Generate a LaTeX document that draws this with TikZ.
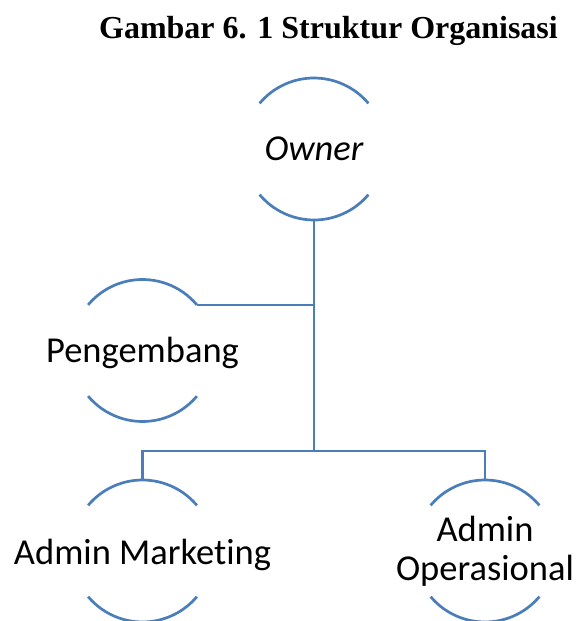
\documentclass[tikz,border=0pt]{standalone}
\usepackage{fontspec}
\setmainfont{Carlito}[Ligatures=NoCommon]
\newfontfamily\titlefont{Liberation Serif}
\definecolor{orgblue}{RGB}{74,126,187}
\begin{document}
\begin{tikzpicture}[x=1pt,y=1pt,
  orgline/.style={draw=orgblue,line width=2.7pt},
  role/.style={circle,minimum size=142pt,inner sep=0pt,outer sep=0pt},
  lbl/.style={font=\fontsize{36.5}{38.3}\selectfont,align=center,anchor=base,inner sep=0pt}]
\useasboundingbox (0,0) rectangle (577,-621);
\node[font=\titlefont\bfseries\fontsize{32}{38}\selectfont,anchor=base,inner sep=0pt] (title) at (328.5,-38) {Gambar 6. 1 Struktur Organisasi};
\node[role] (own) at (314,-149) {};
\node[role] (dev) at (142.5,-350.5) {};
\node[role] (mkt) at (142.5,-551) {};
\node[role] (ops) at (485,-551) {};
\foreach \n in {own,dev,mkt,ops}{
  \draw[orgline] (\n.40) arc[start angle=40,end angle=140,radius=71pt];
  \draw[orgline] (\n.220) arc[start angle=220,end angle=320,radius=71pt];
}
\node[lbl] (ownt) at (314,-160) {\itshape Owner};
\node[lbl] (devt) at (142.5,-362) {Pengembang};
\node[lbl] (mktt) at (142.5,-564) {Admin Marketing};
\node[lbl] (opst) at (485,-580) {Admin\\Operasional};
\coordinate (bus) at (314,-451);
\draw[orgline] (own.south) -- (bus);
\draw[orgline] (dev.40) -- (dev.40 -| own.south);
\draw[orgline] (mkt.north) |- (bus) -| (ops.north);
\end{tikzpicture}
\end{document}
